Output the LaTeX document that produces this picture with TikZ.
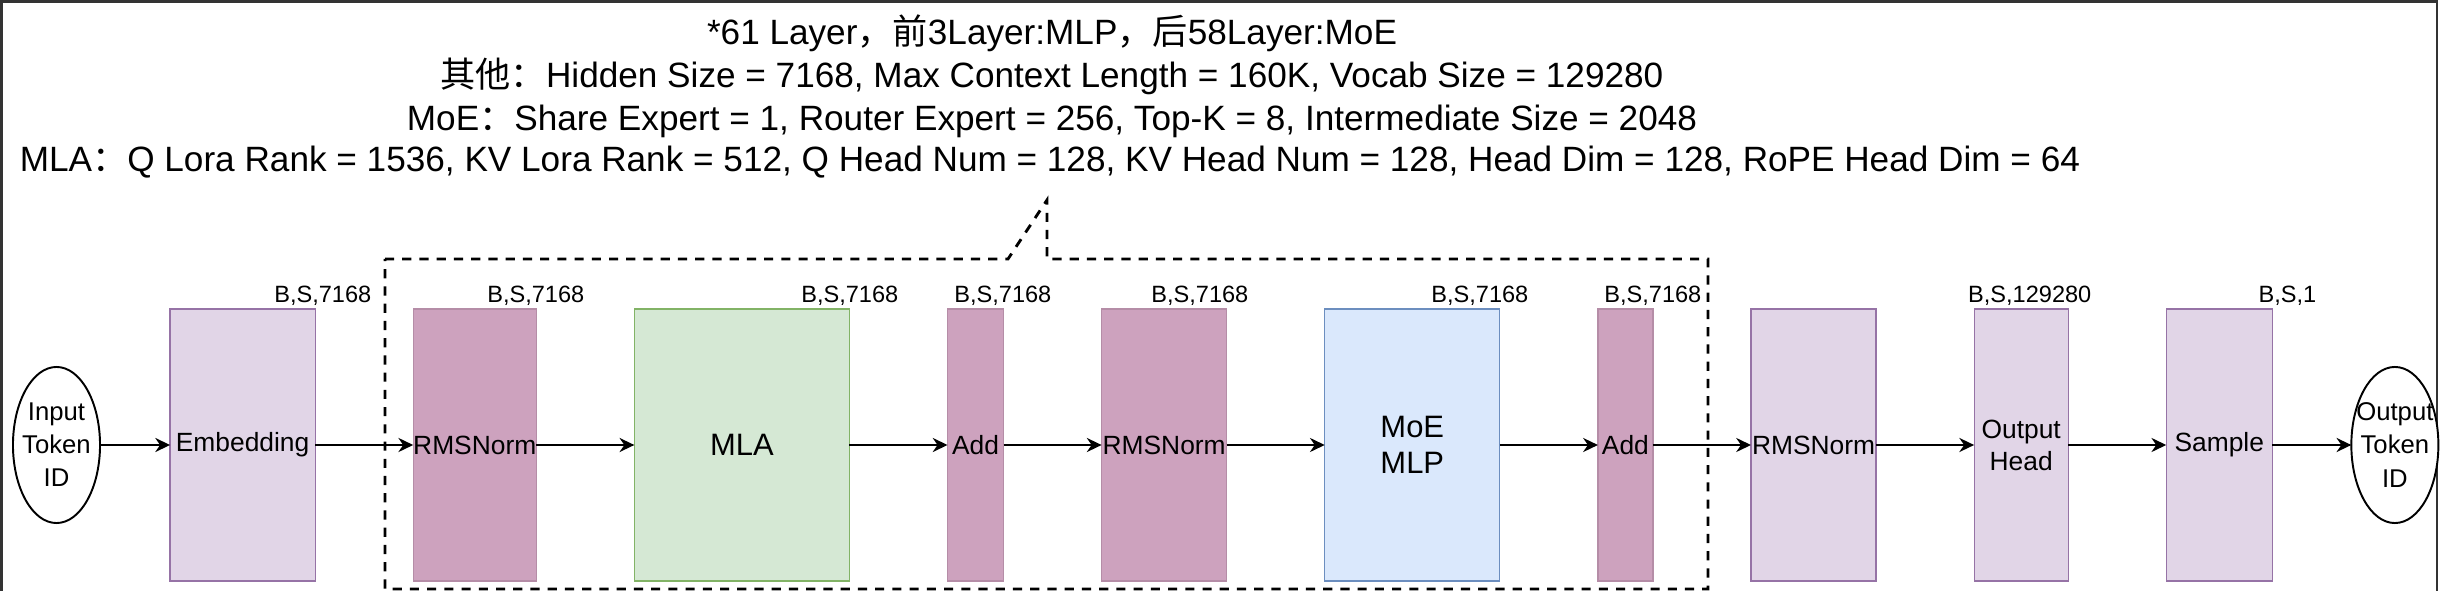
\documentclass[tikz,border=0pt]{standalone}
\usepackage{fontspec}
\setmainfont{Liberation Sans}
\newfontfamily\cjk{Noto Sans CJK SC}
\usetikzlibrary{arrows.meta,positioning,shapes.geometric}
\definecolor{lilacFill}{HTML}{E1D5E7}
\definecolor{lilacLine}{HTML}{9673A6}
\definecolor{mauveFill}{HTML}{CDA2BE}
\definecolor{mauveLine}{HTML}{B58DA7}
\definecolor{mintFill}{HTML}{D5E8D4}
\definecolor{mintLine}{HTML}{82B366}
\definecolor{skyFill}{HTML}{DAE8FC}
\definecolor{skyLine}{HTML}{6C8EBF}
\definecolor{shotFrame}{HTML}{333333}

\begin{document}
\begin{tikzpicture}[
  x=0.01cm,y=-0.01cm,
  node distance=0.98cm,
  block/.style={rectangle,inner sep=0pt,outer sep=0pt,minimum height=2.72cm,align=center,line width=0.35pt,font=\fontsize{7.5}{9.1}\selectfont},
  lilacbox/.style={block,draw=lilacLine,fill=lilacFill},
  mauvebox/.style={block,draw=mauveLine,fill=mauveFill},
  mintbox/.style={block,draw=mintLine,fill=mintFill,font=\fontsize{8.8}{10.2}\selectfont},
  skybox/.style={block,draw=skyLine,fill=skyFill,font=\fontsize{8.8}{10.2}\selectfont},
  token/.style={ellipse,draw=black,line width=0.55pt,fill=white,minimum width=0.87cm,minimum height=1.56cm,inner sep=0pt,outer sep=0pt},
  tokentext/.style={align=center,inner sep=0pt,font=\fontsize{7.3}{9.4}\selectfont},
  dimlabel/.style={anchor=base east,inner sep=0pt,font=\fontsize{6.7}{8}\selectfont},
  infoline/.style={anchor=base,inner sep=0pt,font=\fontsize{10}{12}\selectfont},
  arrow/.style={-{Stealth[length=4.2pt,width=4pt]},line width=0.65pt},
  layerframe/.style={dashed,dash pattern=on 2.6pt off 2.3pt,line width=0.8pt}
]
\useasboundingbox (0,0) rectangle (2442,591);
\draw[shotFrame,line width=0.77pt] (1.4,591) -- (1.4,1.4) -- (2437,1.4) -- (2437,591);

% model settings
\node[infoline] (info1) at (1052,45) {*61 Layer{\cjk ，前}3Layer:MLP{\cjk ，后}58Layer:MoE};
\node[infoline] (info2) at (1052,88) {{\cjk 其他：}Hidden Size = 7168, Max Context Length = 160K, Vocab Size = 129280};
\node[infoline] (info3) at (1052,131) {MoE{\cjk ：}Share Expert = 1, Router Expert = 256, Top-K = 8, Intermediate Size = 2048};
\node[infoline] (info4) at (1050,172) {MLA{\cjk ：}Q Lora Rank = 1536, KV Lora Rank = 512, Q Head Num = 128, KV Head Num = 128, Head Dim = 128, RoPE Head Dim = 64};

% pipeline
\node[token,label={[tokentext]center:Input\\Token\\ID}] (in) at (56.5,445) {};
\node[lilacbox,minimum width=1.45cm,right=0.7cm of in] (emb) {Embedding};
\node[mauvebox,minimum width=1.23cm,right=of emb] (norm1) {RMSNorm};
\node[mintbox,minimum width=2.15cm,right=of norm1] (mla) {MLA};
\node[mauvebox,minimum width=0.56cm,right=of mla] (add1) {Add};
\node[mauvebox,minimum width=1.25cm,right=of add1] (norm2) {RMSNorm};
\node[skybox,minimum width=1.75cm,right=of norm2] (moe) {MoE\\MLP};
\node[mauvebox,minimum width=0.55cm,right=of moe] (add2) {Add};
\node[lilacbox,minimum width=1.25cm,right=of add2] (norm3) {RMSNorm};
\node[lilacbox,minimum width=0.94cm,right=of norm3] (head) {Output\\Head};
\node[lilacbox,minimum width=1.06cm,right=of head] (sample) {Sample};
\node[token,label={[tokentext]center:Output\\Token\\ID},right=0.79cm of sample] (out) {};

% tensor shapes
\node[dimlabel] (embdim) at (372,302) {B,S,7168};
\node[dimlabel] (norm1dim) at (585,302) {B,S,7168};
\node[dimlabel] (mladim) at (899,302) {B,S,7168};
\node[dimlabel] (add1dim) at (1052,302) {B,S,7168};
\node[dimlabel] (norm2dim) at (1249,302) {B,S,7168};
\node[dimlabel] (moedim) at (1529,302) {B,S,7168};
\node[dimlabel] (add2dim) at (1702,302) {B,S,7168};
\node[dimlabel] (headdim) at (2092,302) {B,S,129280};
\node[dimlabel] (sampledim) at (2317,302) {B,S,1};

% one decoder layer
\draw[layerframe] (385,259) -- (1008,259) -- (1047,200) -- (1047,259) -- (1708,259) -- (1708,589) -- (385,589) -- cycle;

\draw[arrow] (in) -- (emb);
\draw[arrow] (emb) -- (norm1);
\draw[arrow] (norm1) -- (mla);
\draw[arrow] (mla) -- (add1);
\draw[arrow] (add1) -- (norm2);
\draw[arrow] (norm2) -- (moe);
\draw[arrow] (moe) -- (add2);
\draw[arrow] (add2) -- (norm3);
\draw[arrow] (norm3) -- (head);
\draw[arrow] (head) -- (sample);
\draw[arrow] (sample) -- (out);
\end{tikzpicture}
\end{document}
